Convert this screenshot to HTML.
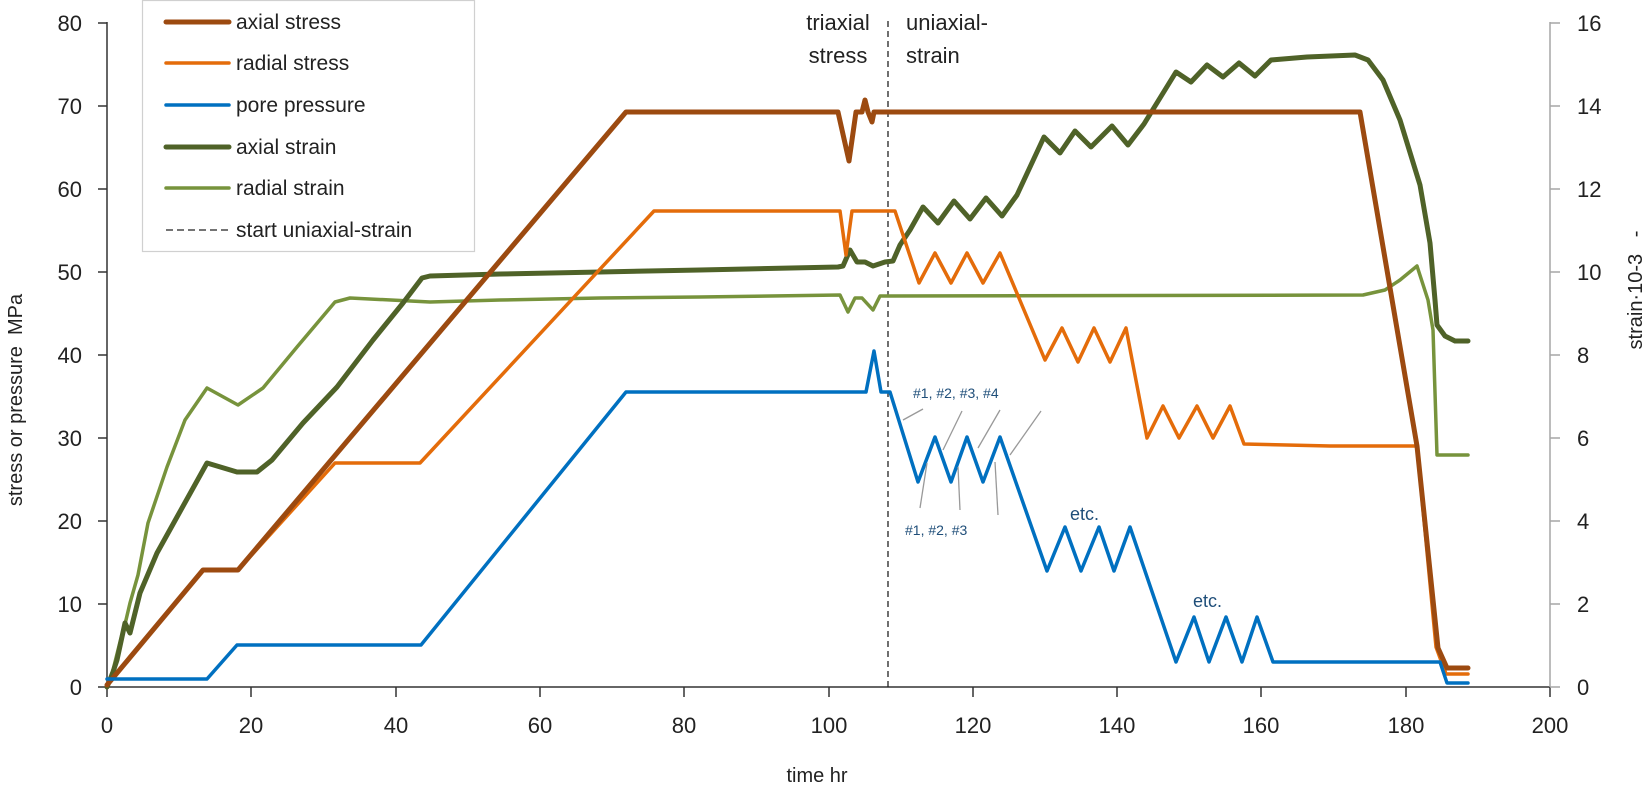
<!DOCTYPE html>
<html><head><meta charset="utf-8"><style>
html,body{margin:0;padding:0;background:#fff}
svg{display:block;font-family:"Liberation Sans",sans-serif}
</style></head><body>
<svg width="1650" height="788" viewBox="0 0 1650 788" xmlns="http://www.w3.org/2000/svg">
<rect width="1650" height="788" fill="#fff"/>
<line x1="107" y1="22" x2="107" y2="687" stroke="#333" stroke-width="1.5"/>
<line x1="107" y1="687" x2="1550" y2="687" stroke="#333" stroke-width="1.5"/>
<line x1="1550" y1="22" x2="1550" y2="687" stroke="#a6a6a6" stroke-width="1.5"/>
<g stroke="#333" stroke-width="1.5">
<line x1="98" y1="687" x2="107" y2="687"/><line x1="98" y1="604" x2="107" y2="604"/><line x1="98" y1="521" x2="107" y2="521"/><line x1="98" y1="438" x2="107" y2="438"/><line x1="98" y1="355" x2="107" y2="355"/><line x1="98" y1="272" x2="107" y2="272"/><line x1="98" y1="189" x2="107" y2="189"/><line x1="98" y1="106" x2="107" y2="106"/><line x1="98" y1="23" x2="107" y2="23"/>
<line x1="107" y1="687" x2="107" y2="697"/><line x1="251" y1="687" x2="251" y2="697"/><line x1="396" y1="687" x2="396" y2="697"/><line x1="540" y1="687" x2="540" y2="697"/><line x1="684" y1="687" x2="684" y2="697"/><line x1="829" y1="687" x2="829" y2="697"/><line x1="973" y1="687" x2="973" y2="697"/><line x1="1117" y1="687" x2="1117" y2="697"/><line x1="1261" y1="687" x2="1261" y2="697"/><line x1="1406" y1="687" x2="1406" y2="697"/><line x1="1550" y1="687" x2="1550" y2="697"/>
</g>
<g stroke="#a6a6a6" stroke-width="1.5">
<line x1="1550" y1="687" x2="1560" y2="687"/><line x1="1550" y1="604" x2="1560" y2="604"/><line x1="1550" y1="521" x2="1560" y2="521"/><line x1="1550" y1="438" x2="1560" y2="438"/><line x1="1550" y1="355" x2="1560" y2="355"/><line x1="1550" y1="272" x2="1560" y2="272"/><line x1="1550" y1="189" x2="1560" y2="189"/><line x1="1550" y1="106" x2="1560" y2="106"/><line x1="1550" y1="23" x2="1560" y2="23"/>
</g>
<g font-size="22" fill="#222" text-anchor="end">
<text x="82" y="695">0</text><text x="82" y="612">10</text><text x="82" y="529">20</text><text x="82" y="446">30</text><text x="82" y="363">40</text><text x="82" y="280">50</text><text x="82" y="197">60</text><text x="82" y="114">70</text><text x="82" y="31">80</text>
</g>
<g font-size="22" fill="#222" text-anchor="start">
<text x="1577" y="695">0</text><text x="1577" y="612">2</text><text x="1577" y="529">4</text><text x="1577" y="446">6</text><text x="1577" y="363">8</text><text x="1577" y="280">10</text><text x="1577" y="197">12</text><text x="1577" y="114">14</text><text x="1577" y="31">16</text>
</g>
<g font-size="22" fill="#222" text-anchor="middle">
<text x="107" y="733">0</text><text x="251" y="733">20</text><text x="396" y="733">40</text><text x="540" y="733">60</text><text x="684" y="733">80</text><text x="829" y="733">100</text><text x="973" y="733">120</text><text x="1117" y="733">140</text><text x="1261" y="733">160</text><text x="1406" y="733">180</text><text x="1550" y="733">200</text>
<text x="817" y="782" font-size="20">time   hr</text>
<text transform="translate(22,400) rotate(-90)" font-size="20" xml:space="preserve">stress or pressure  MPa</text>
<text transform="translate(1642,290) rotate(-90)" font-size="20" xml:space="preserve">strain·10-3   -</text>
<text x="838" y="30">triaxial</text><text x="838" y="63">stress</text>
</g>
<text x="906" y="30" font-size="22" fill="#222">uniaxial-</text>
<text x="906" y="63" font-size="22" fill="#222">strain</text>
<line x1="888" y1="21" x2="888" y2="687" stroke="#222" stroke-width="1.3" stroke-dasharray="6,4"/>
<g fill="none" stroke-linejoin="round" stroke-linecap="round">
<polyline stroke="#77933c" stroke-width="3.5" points="107,687 113,670 120,642 126,620 130,603 138,575 148,523 167,467 185,420 207,388 238,405 263,388 297,347 335,302 350,298 430,302 500,300 600,298 700,297 840,295 848,312 855,298 862,298 873,310 880,296 1363,295 1385,290 1400,280 1417,266 1428,300 1433,330 1437,455 1468,455"/>
<polyline stroke="#4f6228" stroke-width="5" points="107,687 113,672 117,660 125,623 130,633 140,593 157,553 177,517 207,463 237,472 257,472 272,460 303,423 337,387 373,340 403,303 422,278 430,276 500,274 600,272 700,270 838,267 843,266 850,250 857,262 865,262 873,266 885,262 893,261 900,245 910,230 923,207 938,223 954,201 970,219 986,198 1002,216 1017,195 1044,137 1060,153 1075,131 1091,147 1112,126 1128,145 1144,124 1176,72 1191,82 1207,65 1223,77 1239,63 1255,76 1271,60 1307,57 1355,55 1368,60 1383,80 1400,120 1420,185 1430,243 1435,300 1437,325 1445,336 1455,341 1468,341"/>
<polyline stroke="#e46c0a" stroke-width="3.5" points="107,685 203,570 238,570 335,463 420,463 654,211 840,211 846,255 852,211 895,211 919,283 935,253 951,283 967,253 983,283 1000,253 1045,360 1062,328 1078,362 1094,328 1110,362 1126,328 1147,438 1163,406 1179,438 1197,406 1213,438 1230,406 1244,444 1330,446 1417,446 1436,647 1446,674 1468,674"/>
<polyline stroke="#9c4a10" stroke-width="5" points="107,685 203,570 238,570 626,112 838,112 849,161 856,112 862,112 865,100 868,112 872,122 874,112 1360,112 1417,446 1438,648 1447,668 1468,668"/>
<polyline stroke="#0070c0" stroke-width="3.5" points="107,679 207,679 237,645 421,645 626,392 866,392 874,351 881,392 890,392 918,482 935,437 951,482 967,437 983,482 1000,437 1047,571 1065,527 1081,571 1099,527 1114,571 1130,527 1176,662 1194,617 1209,662 1226,617 1242,662 1257,617 1273,662 1440,662 1447,683 1468,683"/>
</g>
<g stroke="#999" stroke-width="1.3">
<line x1="903" y1="420" x2="923" y2="409"/><line x1="943" y1="450" x2="962" y2="411"/><line x1="978" y1="448" x2="1000" y2="410"/><line x1="1010" y1="455" x2="1041" y2="411"/>
<line x1="920" y1="508" x2="927" y2="463"/><line x1="960" y1="510" x2="958" y2="467"/><line x1="998" y1="515" x2="995" y2="462"/>
</g>
<g fill="#1f4e79">
<text x="913" y="398" font-size="14">#1, #2, #3, #4</text>
<text x="905" y="535" font-size="14">#1, #2, #3</text>
<text x="1070" y="520" font-size="18">etc.</text>
<text x="1193" y="607" font-size="18">etc.</text>
</g>
<rect x="142.5" y="0.5" width="332" height="251" fill="#fff" stroke="#d0d0d0" stroke-width="1.2"/>
<g stroke-linecap="round">
<line x1="166" y1="22" x2="229" y2="22" stroke="#9c4a10" stroke-width="5"/>
<line x1="166" y1="63" x2="229" y2="63" stroke="#e46c0a" stroke-width="3.5"/>
<line x1="166" y1="105" x2="229" y2="105" stroke="#0070c0" stroke-width="3.5"/>
<line x1="166" y1="147" x2="229" y2="147" stroke="#4f6228" stroke-width="5"/>
<line x1="166" y1="188" x2="229" y2="188" stroke="#77933c" stroke-width="3.5"/>
</g>
<line x1="166" y1="230" x2="229" y2="230" stroke="#222" stroke-width="1.3" stroke-dasharray="7,4"/>
<g font-size="21" fill="#222">
<text x="236" y="29">axial stress</text>
<text x="236" y="70">radial stress</text>
<text x="236" y="112">pore pressure</text>
<text x="236" y="154">axial strain</text>
<text x="236" y="195">radial strain</text>
<text x="236" y="237">start uniaxial-strain</text>
</g>
</svg>
</body></html>
